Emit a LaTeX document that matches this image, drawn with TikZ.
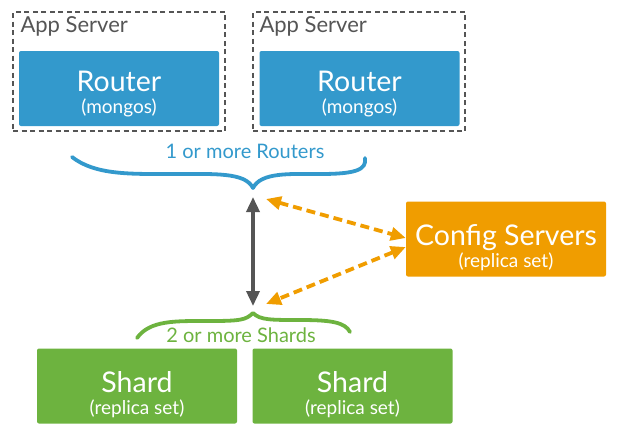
\documentclass[tikz,border=0pt]{standalone}
\usepackage{fontspec}
\setmainfont{Lato}
\usetikzlibrary{arrows.meta}
\definecolor{routerblue}{HTML}{3399CC}
\definecolor{configorange}{HTML}{F09D00}
\definecolor{shardgreen}{HTML}{6DB33F}
\definecolor{linkgray}{HTML}{555555}
\begin{document}
\begin{tikzpicture}[x=1pt, y=-1pt, line join=round, line cap=round,
	>={Triangle[length=15pt,width=13pt]},
	appbox/.style={draw=linkgray, line width=1.6pt, dash pattern=on 5pt off 3.5pt, line cap=butt, minimum width=212pt, minimum height=119pt, inner sep=0pt},
	tierbox/.style={minimum width=200pt, minimum height=75pt, inner sep=0pt, rounded corners=2pt},
	bigtext/.style={text=white, font=\fontsize{28.5}{28.5}\selectfont, anchor=base},
	smalltext/.style={text=white, font=\fontsize{19}{19}\selectfont, anchor=base},
	notetext/.style={font=\fontsize{20}{20}\selectfont, anchor=base},
	brace/.style={line width=3.8pt}]
	\useasboundingbox (0,0) rectangle (620,440);
	
	\node[appbox] (A1) at (119,71.5) {};
	\node[appbox] (A2) at (359,71.5) {};
	\node[notetext, text=linkgray, anchor=base west, font=\fontsize{22}{22}\selectfont] at (17,32) {App Server};
	\node[notetext, text=linkgray, anchor=base west, font=\fontsize{22}{22}\selectfont] at (256,32) {App Server};
	
	\node[tierbox, fill=routerblue] (R1) at (119,88.5) {};
	\node[tierbox, fill=routerblue] (R2) at (359.5,88.5) {};
	\node[tierbox, fill=configorange] (C) at (506,239) {};
	\node[tierbox, fill=shardgreen] (S1) at (137,386) {};
	\node[tierbox, fill=shardgreen] (S2) at (352.5,386) {};
	
	\foreach \tier/\mainline/\subline/\dy in {R1/Router/(mongos)/3, R2/Router/(mongos)/3, C/Config Servers/(replica set)/6, S1/Shard/(replica set)/6, S2/Shard/(replica set)/6}
	{
		\node[bigtext] at ([yshift=-\dy pt]\tier.center) {\mainline};
		\node[smalltext] at ([yshift=-\dy pt-22pt]\tier.center) {\subline};
	}
	
	% braces
	\draw[brace, routerblue] (72,157) .. controls (95,175) and (130,174) .. (170,174)
		.. controls (215,174) and (245,172) .. (253,188)
		.. controls (261,172) and (290,174) .. (320,174)
		.. controls (355,174) and (367,170) .. (365,158);
	\node[notetext, text=routerblue] at (245,158) {1 or more Routers};
	
	\draw[brace, shardgreen] (137,338) .. controls (150,320) and (175,321) .. (210,321)
		.. controls (240,321) and (246,320) .. (253,313)
		.. controls (260,320) and (270,320) .. (300,320)
		.. controls (330,320) and (345,322) .. (350,332);
	\node[notetext, text=shardgreen] at (241,342) {2 or more Shards};
	
	\path
	(253,197) coordinate (RT)
	(253,306) coordinate (ST)
	(266,199) coordinate (RC)
	(266,304) coordinate (SC);
	
	\draw[<->, linkgray, line width=3.5pt] (RT) -- (ST);
	\draw[<->, configorange, line width=3.8pt, dash pattern=on 9pt off 5pt, line cap=butt] (RC) -- ([yshift=1pt]C.west);
	\draw[<->, configorange, line width=3.8pt, dash pattern=on 9pt off 5pt, line cap=butt] ([yshift=-8pt]C.west) -- (SC);
\end{tikzpicture}
\end{document}
